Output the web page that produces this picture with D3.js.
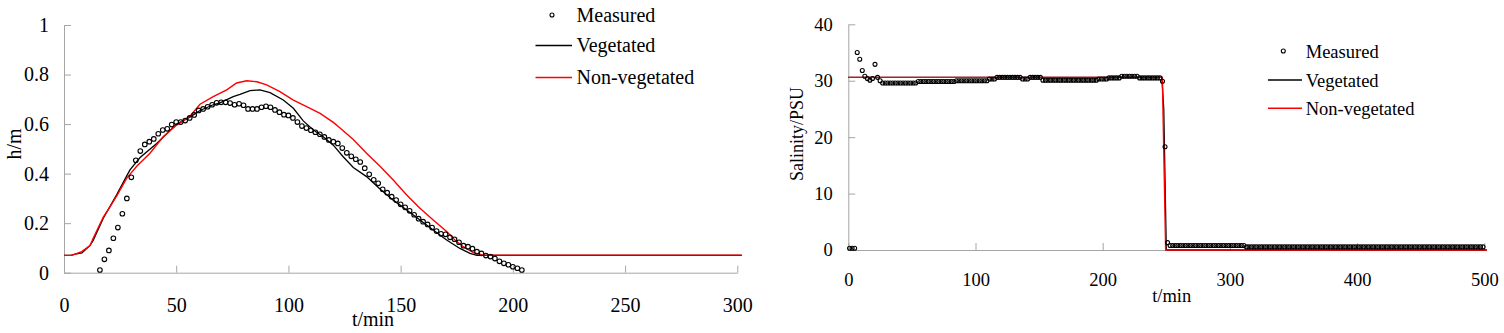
<!DOCTYPE html>
<html><head><meta charset="utf-8">
<script src="https://cdn.jsdelivr.net/npm/d3@7"></script>
<style>
html,body{margin:0;padding:0;background:#fff;}
svg text{font-family:"Liberation Serif","Times New Roman",serif;fill:#000;}
</style></head>
<body><svg id="c" width="1504" height="333"></svg>
<script>
// ---------- Left chart: water depth h/m ----------
const hTicksX = [0, 50, 100, 150, 200, 250, 300];
const hTicksY = [0, 0.2, 0.4, 0.6, 0.8, 1];
const hTickLabelsY = ["0", "0.2", "0.4", "0.6", "0.8", "1"];

const hMeasT = [16,18,20,22,24,26,28,30,32,34,36,38,40,42,44,46,48,50,52,54,56,58,60,62,64,66,68,70,72,74,76,78,80,82,84,86,88,90,92,94,96,98,100,102,104,106,108,110,112,114,116,118,120,122,124,126,128,130,132,134,136,138,140,142,144,146,148,150,152,154,156,158,160,162,164,166,168,170,172,174,176,178,180,182,184,186,188,190,192,194,196,198,200,202,204];
const hMeasV = [0.011,0.054,0.09,0.139,0.182,0.238,0.30,0.385,0.454,0.491,0.518,0.529,0.54,0.561,0.576,0.581,0.598,0.608,0.608,0.614,0.625,0.637,0.655,0.661,0.67,0.678,0.686,0.688,0.688,0.685,0.678,0.682,0.676,0.661,0.661,0.661,0.668,0.672,0.668,0.657,0.648,0.638,0.635,0.625,0.608,0.592,0.584,0.575,0.567,0.559,0.548,0.536,0.529,0.522,0.503,0.484,0.47,0.458,0.447,0.422,0.397,0.375,0.361,0.337,0.323,0.307,0.293,0.276,0.264,0.25,0.234,0.218,0.206,0.195,0.182,0.168,0.157,0.155,0.143,0.135,0.123,0.109,0.105,0.097,0.085,0.078,0.069,0.065,0.057,0.046,0.038,0.032,0.024,0.018,0.011];

const hVegT = [0,3,5,8,11.6,13,17.5,23.5,27.9,29.4,33.9,41.3,50.2,56.1,60.6,66.5,69.5,75.4,78.4,82.9,87.3,91.8,97.7,102.2,106.6,111.1,115.5,120,124.4,128.9,134.8,140.8,146.7,152.7,158.6,164.5,170.5,176.4,180.9,184,302];
const hVegV = [0.07,0.07,0.075,0.08,0.11,0.13,0.22,0.315,0.39,0.415,0.465,0.522,0.6,0.628,0.655,0.678,0.686,0.711,0.72,0.735,0.738,0.727,0.697,0.664,0.613,0.576,0.549,0.515,0.468,0.425,0.388,0.338,0.293,0.253,0.213,0.172,0.132,0.098,0.078,0.07,0.07];

const hNvT = [0,3.4,7.9,11.6,13,17.5,20.5,23.5,27.9,32.4,38.3,44.2,50.2,56.1,60.6,66.5,72.5,76.9,81.4,86,90.3,96.2,102.2,108.1,114.1,120,123,128.9,134.8,140.8,146.7,152.7,158.6,164.5,170.5,174.2,177.9,182.4,186.8,302];
const hNvV = [0.07,0.07,0.085,0.11,0.139,0.224,0.266,0.31,0.381,0.43,0.482,0.549,0.596,0.632,0.68,0.711,0.738,0.766,0.775,0.771,0.758,0.731,0.697,0.67,0.643,0.607,0.584,0.538,0.482,0.43,0.374,0.314,0.26,0.213,0.166,0.132,0.105,0.081,0.071,0.071];

// ---------- Right chart: salinity ----------
const sTicksX = [0, 100, 200, 300, 400, 500];
const sTicksY = [0, 10, 20, 30, 40];
const sMeasT = d3.range(1, 500, 2); // sampling times (every 2 min)
const sMeasV = [
 0.3,0.3,0.3,
 35,33.8,31.8,30.8,30.4,30.1,30.4,32.9,30.6,30.0,
 29.6,29.6,29.6,29.6,29.6,29.6,29.6,29.6,29.6,29.6,29.6,29.6,29.6,29.6,
 29.85,29.85,29.85,29.85,29.85,29.85,29.85,29.85,29.85,29.85,29.85,29.85,29.85,29.85,29.85,
 30.0,30.0,30.0,30.0,30.0,30.0,30.0,30.0,30.0,30.0,30.0,30.0,30.0,
 30.3,30.3,30.3,
 30.6,30.6,30.6,30.6,30.6,30.6,30.6,30.6,30.6,30.6,
 30.3,30.3,30.3,
 30.6,30.6,30.6,30.6,30.6,
 30.1,30.1,30.1,30.1,30.1,30.1,30.1,30.1,30.1,30.1,30.1,30.1,30.1,30.1,30.1,30.1,30.1,30.1,30.1,30.1,30.1,30.1,
 30.3,30.3,30.3,30.3,
 30.5,30.5,30.5,30.5,30.5,
 30.8,30.8,30.8,30.8,30.8,30.8,30.8,
 30.5,30.5,30.5,30.5,30.5,30.5,30.5,30.5,30.5,
 29.9,18.3,1.3,
 0.8,0.8,0.8,0.8,0.8,0.8,0.8,0.8,0.8,0.8,0.8,0.8,0.8,0.8,0.8,0.8,0.8,0.8,0.8,0.8,0.8,0.8,0.8,0.8,0.8,0.8,0.8,0.8,0.8,0.8,
 0.55,0.55,0.55,0.55,0.55,0.55,0.55,0.55,0.55,0.55,0.55,0.55,0.55,0.55,0.55,0.55,0.55,0.55,0.55,0.55,
 0.55,0.55,0.55,0.55,0.55,0.55,0.55,0.55,0.55,0.55,0.55,0.55,0.55,0.55,0.55,0.55,0.55,0.55,0.55,0.55,
 0.55,0.55,0.55,0.55,0.55,0.55,0.55,0.55,0.55,0.55,0.55,0.55,0.55,0.55,0.55,0.55,0.55,0.55,0.55,0.55,
 0.55,0.55,0.55,0.55,0.55,0.55,0.55,0.55,0.55,0.55,0.55,0.55,0.55,0.55,0.55,0.55,0.55,0.55,0.55,0.55,
 0.55,0.55,0.55,0.55,0.55,0.55,0.55,0.55,0.55,0.55,0.55,0.55,0.55,0.55
];
const sVegT = [0, 246.5, 248, 250, 502];
const sVegV = [30.6, 30.6, 25, 0, 0];
const sNvT = [0, 246.9, 249.5, 502];
const sNvV = [30.6, 30.6, 0, 0];

const seriesNames = ["Measured", "Vegetated", "Non-vegetated"];
const AXIS = "#a6a6a6", RED = "#ff0000";

const svg = d3.select("#c");

function styleAxis(g) {
  g.selectAll(".domain").attr("stroke", AXIS).attr("stroke-width", 1);
  g.selectAll(".tick line").attr("stroke", AXIS).attr("stroke-width", 1);
  g.selectAll("text").attr("fill", "#000");
}

function drawChart(o) {
  const x = d3.scaleLinear().domain(o.xDom).range(o.xRange);
  const y = d3.scaleLinear().domain(o.yDom).range(o.yRange);
  const fs = o.fs;

  const gx = svg.append("g").attr("transform", `translate(0,${o.yRange[0]})`)
    .call(d3.axisBottom(x).tickValues(o.xTicks).tickSizeInner(-7).tickSizeOuter(0).tickPadding(o.xPad).tickFormat(d3.format("d")));
  gx.selectAll("text").attr("font-size", fs).attr("font-family", "Liberation Serif");
  styleAxis(gx);

  const gy = svg.append("g").attr("transform", `translate(${o.xRange[0]},0)`)
    .call(d3.axisLeft(y).tickValues(o.yTicks).tickSizeInner(-7).tickSizeOuter(0).tickPadding(o.yPad).tickFormat((d, i) => o.yLabels[i]));
  gy.selectAll("text").attr("font-size", fs).attr("font-family", "Liberation Serif");
  styleAxis(gy);

  const line = d3.line().x(d => x(d[0])).y(d => y(d[1]));
  svg.append("path").datum(d3.zip(o.vegT, o.vegV)).attr("d", line)
    .attr("fill", "none").attr("stroke", "#000").attr("stroke-width", 1.3);
  svg.append("path").datum(d3.zip(o.nvT, o.nvV)).attr("d", line)
    .attr("fill", "none").attr("stroke", RED).attr("stroke-width", 1.4);

  svg.append("g").selectAll("circle").data(d3.zip(o.mT, o.mV)).join("circle")
    .attr("cx", d => x(d[0])).attr("cy", d => y(d[1])).attr("r", o.r)
    .attr("fill", "none").attr("stroke", "#000").attr("stroke-width", 1.1);

  // axis titles
  svg.append("text").attr("x", o.xt[0]).attr("y", o.xt[1]).attr("text-anchor", "middle")
    .attr("font-size", fs).text("t/min");
  svg.append("text").attr("transform", `translate(${o.yt[0]},${o.yt[1]}) rotate(-90)`)
    .attr("text-anchor", "middle").attr("font-size", o.ytfs || fs).text(o.yTitle);

  // legend
  const L = o.leg;
  svg.append("circle").attr("cx", L.cx).attr("cy", L.ys[0]).attr("r", 2)
    .attr("fill", "none").attr("stroke", "#000").attr("stroke-width", 1.1);
  svg.append("line").attr("x1", L.x1).attr("x2", L.x2).attr("y1", L.ys[1]).attr("y2", L.ys[1])
    .attr("stroke", "#000").attr("stroke-width", 1.3);
  svg.append("line").attr("x1", L.x1).attr("x2", L.x2).attr("y1", L.ys[2]).attr("y2", L.ys[2])
    .attr("stroke", RED).attr("stroke-width", 1.4);
  seriesNames.forEach((n, i) => {
    svg.append("text").attr("x", L.tx).attr("y", L.ys[i] + L.dy).attr("font-size", fs).text(n);
  });
}

drawChart({
  xDom: [0, 300], xRange: [64, 737.3], yDom: [0, 1], yRange: [272.7, 25],
  xTicks: hTicksX, yTicks: hTicksY, yLabels: hTickLabelsY, fs: 20, xPad: 25, yPad: 15,
  vegT: hVegT, vegV: hVegV, nvT: hNvT, nvV: hNvV, mT: hMeasT, mV: hMeasV, r: 2.3,
  xt: [373, 326], yt: [21, 144], yTitle: "h/m",
  leg: { cx: 552, x1: 535.5, x2: 572, tx: 576.5, ys: [15, 45.5, 77.5], dy: 6.7 }
});

drawChart({
  xDom: [0, 500], xRange: [848.3, 1484.3], yDom: [0, 40], yRange: [250, 24.3],
  xTicks: sTicksX, yTicks: sTicksY, yLabels: sTicksY.map(String), fs: 18.5, xPad: 23, yPad: 15.5,
  vegT: sVegT, vegV: sVegV, nvT: sNvT, nvV: sNvV, mT: sMeasT, mV: sMeasV, r: 2,
  xt: [1171.7, 302], yt: [803, 134], yTitle: "Salinity/PSU", ytfs: 18,
  leg: { cx: 1283.3, x1: 1268, x2: 1302, tx: 1305.7, ys: [51, 80, 108.3], dy: 6.5 }
});
</script>
</body></html>
